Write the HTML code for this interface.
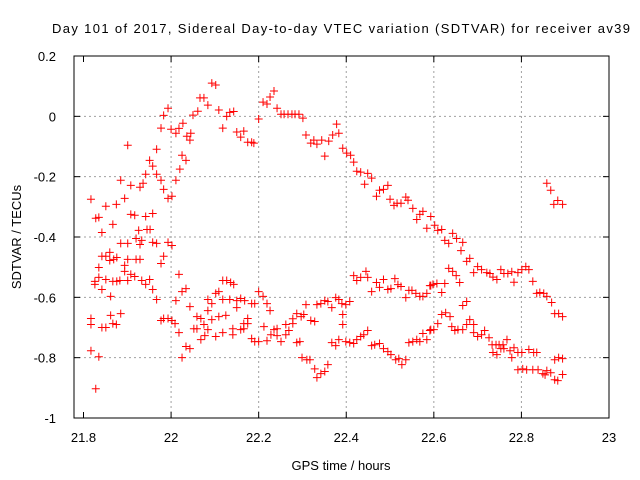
<!DOCTYPE html>
<html><head><meta charset="utf-8"><style>
body{margin:0;background:#fff}
svg{display:block;font-family:"Liberation Sans",sans-serif}
</style></head><body>
<svg id="chart" width="640" height="480">
<text x="341" y="33" text-anchor="middle" font-size="13" textLength="578">Day 101 of 2017, Sidereal Day-to-day VTEC variation (SDTVAR) for receiver av39</text>
<text transform="translate(21,237) rotate(-90)" text-anchor="middle" font-size="13">SDTVAR / TECUs</text>
<text x="341" y="470" text-anchor="middle" font-size="13">GPS time / hours</text>
<g id="grid"></g>
<g id="pts"></g>
<rect x="74" y="56" width="535" height="362" fill="none" stroke="#000" stroke-width="1"/>
<g id="ticks"></g>
</svg>
<script>
const xTicks=[21.8,22,22.2,22.4,22.6,22.8,23];
const xTickLabels=["21.8","22","22.2","22.4","22.6","22.8","23"];
const yTicks=[0.2,0,-0.2,-0.4,-0.6,-0.8,-1];
const yTickLabels=["0.2","0","-0.2","-0.4","-0.6","-0.8","-1"];
const upperX=[21.817,21.828,21.835,21.842,21.851,21.867,21.875,21.885,21.894,21.901,21.908,21.908,21.917,21.926,21.945,21.952,21.929,21.936,21.942,21.942,21.951,21.958,21.958,21.967,21.967,21.977,21.977,21.983,21.993,21.983,21.993,22.002,22.0,22.011,22.011,22.02,22.018,22.027,22.025,22.034,22.036,22.045,22.043,22.05,22.061,22.066,22.075,22.084,22.093,22.102,22.109,22.118,22.127,22.134,22.143,22.15,22.166,22.159,22.175,22.184,22.189,22.2,22.21,22.219,22.226,22.235,22.242,22.251,22.258,22.267,22.276,22.283,22.292,22.301,22.308,22.319,22.326,22.333,22.344,22.351,22.36,22.369,22.378,22.383,22.392,22.401,22.41,22.417,22.424,22.433,22.449,22.458,22.442,22.469,22.476,22.485,22.495,22.5,22.509,22.516,22.525,22.536,22.541,22.552,22.561,22.568,22.575,22.584,22.593,22.602,22.609,22.618,22.625,22.634,22.643,22.652,22.666,22.662,22.675,22.682,22.7,22.709,22.691,22.721,22.728,22.735,22.744,22.753,22.76,22.769,22.778,22.783,22.792,22.801,22.81,22.817,22.826,22.835,22.842,22.851,22.858,22.869,22.876,22.885,22.894,22.858,22.867,22.874,22.883,22.894];
const upperY=[-0.275,-0.338,-0.335,-0.385,-0.298,-0.358,-0.292,-0.212,-0.272,-0.096,-0.229,-0.325,-0.328,-0.378,-0.375,-0.375,-0.235,-0.222,-0.192,-0.332,-0.146,-0.165,-0.322,-0.109,-0.192,-0.212,-0.039,0.003,0.027,-0.242,-0.272,-0.265,-0.043,-0.056,-0.212,-0.175,-0.04,-0.023,-0.129,-0.146,-0.066,-0.056,-0.079,0.004,0.017,0.061,0.061,0.037,0.11,0.104,0.021,-0.039,0,0.013,0.016,-0.052,-0.049,-0.069,-0.086,-0.086,-0.089,-0.009,0.047,0.041,0.064,0.084,0.027,0.007,0.007,0.007,0.007,0.007,0.007,-0.006,-0.062,-0.089,-0.079,-0.092,-0.079,-0.132,-0.082,-0.062,-0.026,-0.056,-0.106,-0.122,-0.129,-0.152,-0.182,-0.185,-0.189,-0.205,-0.225,-0.265,-0.245,-0.242,-0.229,-0.275,-0.295,-0.288,-0.288,-0.268,-0.278,-0.305,-0.342,-0.325,-0.315,-0.371,-0.332,-0.361,-0.378,-0.375,-0.411,-0.421,-0.388,-0.405,-0.418,-0.445,-0.481,-0.471,-0.498,-0.508,-0.518,-0.518,-0.521,-0.533,-0.541,-0.508,-0.521,-0.521,-0.515,-0.55,-0.518,-0.508,-0.498,-0.508,-0.547,-0.587,-0.584,-0.587,-0.597,-0.617,-0.654,-0.654,-0.664,-0.222,-0.245,-0.292,-0.279,-0.292];
const middleX=[22.417,22.424,22.433,22.445,22.449,22.458,22.469,22.476,22.485,22.495,22.502,22.511,22.518,22.525,22.536,22.543,22.55,22.559,22.568,22.575,22.584,22.593,22.591,22.598,22.607,22.625,22.618,22.634,22.643,22.651,22.659,22.666,22.675,22.2,22.21,22.219,22.226,22.191,22.308,22.333,22.342,22.351,22.358,22.367,22.376,22.383,22.39,22.399,22.408,22.392,22.392];
const middleY=[-0.528,-0.544,-0.534,-0.514,-0.534,-0.581,-0.551,-0.567,-0.541,-0.574,-0.571,-0.538,-0.558,-0.564,-0.601,-0.577,-0.577,-0.587,-0.597,-0.597,-0.587,-0.561,-0.561,-0.557,-0.554,-0.554,-0.584,-0.504,-0.514,-0.528,-0.551,-0.627,-0.614,-0.581,-0.597,-0.621,-0.644,-0.621,-0.624,-0.624,-0.621,-0.611,-0.614,-0.634,-0.601,-0.607,-0.621,-0.624,-0.614,-0.657,-0.69];
const lowerX=[22.591,22.6,22.609,22.618,22.627,22.637,22.641,22.648,22.655,22.666,22.675,22.682,22.691,22.691,22.7,22.709,22.716,22.726,22.733,22.742,22.749,22.758,22.767,22.735,22.744,22.753,22.76,22.774,22.783,22.778,22.792,22.801,22.817,22.828,22.835,22.792,22.803,22.812,22.826,22.838,22.849,22.858,22.854,22.867,22.876,22.883,22.894,22.876,22.885,22.894,22.212,22.219,22.191,22.2,22.228,22.235,22.242,22.242,22.251,22.262,22.262,22.269,22.278,22.278,22.287,22.297,22.303,22.287,22.294,22.319,22.328,22.299,22.31,22.317,22.328,22.333,22.342,22.351,22.358,22.367,22.376,22.383,22.399,22.408,22.417,22.424,22.433,22.44,22.449,22.458,22.465,22.476,22.485,22.495,22.502,22.513,22.52,22.527,22.536,22.543,22.552,22.561,22.568,22.575,22.584,22.593];
const lowerY=[-0.71,-0.707,-0.687,-0.657,-0.651,-0.664,-0.697,-0.71,-0.707,-0.707,-0.69,-0.674,-0.69,-0.717,-0.73,-0.724,-0.71,-0.734,-0.757,-0.757,-0.757,-0.757,-0.74,-0.783,-0.79,-0.77,-0.77,-0.777,-0.767,-0.8,-0.783,-0.783,-0.773,-0.783,-0.783,-0.84,-0.837,-0.84,-0.84,-0.84,-0.853,-0.843,-0.857,-0.85,-0.873,-0.876,-0.856,-0.807,-0.8,-0.803,-0.697,-0.744,-0.747,-0.747,-0.724,-0.707,-0.704,-0.727,-0.747,-0.69,-0.724,-0.71,-0.671,-0.687,-0.654,-0.664,-0.657,-0.75,-0.747,-0.677,-0.68,-0.8,-0.807,-0.807,-0.837,-0.866,-0.853,-0.846,-0.823,-0.75,-0.76,-0.74,-0.747,-0.75,-0.753,-0.74,-0.73,-0.724,-0.71,-0.76,-0.757,-0.753,-0.77,-0.78,-0.79,-0.807,-0.803,-0.823,-0.807,-0.75,-0.747,-0.74,-0.747,-0.72,-0.74,-0.707];
const leftX=[21.817,21.817,21.817,21.835,21.828,21.842,21.851,21.862,21.867,21.875,21.885,21.826,21.826,21.835,21.835,21.842,21.851,21.862,21.842,21.851,21.86,21.86,21.869,21.876,21.867,21.876,21.883,21.885,21.901,21.92,21.929,21.933,21.958,21.967,21.993,22.002,21.894,21.894,21.901,21.92,21.929,21.908,21.917,21.901,21.933,21.942,21.951,21.958,21.983,21.977,21.967,22.018,22.011,22.025,22.034,21.977,21.983,21.993,22.002,22.009,22.018,22.043,22.034,22.043,22.025,22.059,22.068,22.084,22.093,22.109,22.125,22.109,22.118,22.127,22.136,22.143,22.052,22.059,22.075,22.084,22.102,22.118,22.141,22.159,22.166,22.175,22.184,22.077,22.068,22.084,22.102,22.093,22.118,22.134,22.15,22.159,22.168,22.184,22.175,22.166,22.141,22.15];
const leftY=[-0.67,-0.69,-0.777,-0.797,-0.903,-0.7,-0.7,-0.66,-0.687,-0.69,-0.654,-0.547,-0.557,-0.501,-0.534,-0.574,-0.541,-0.597,-0.464,-0.464,-0.451,-0.478,-0.474,-0.468,-0.547,-0.547,-0.544,-0.421,-0.421,-0.405,-0.425,-0.411,-0.418,-0.421,-0.418,-0.428,-0.494,-0.514,-0.474,-0.474,-0.474,-0.524,-0.531,-0.544,-0.544,-0.557,-0.541,-0.574,-0.464,-0.488,-0.607,-0.524,-0.611,-0.581,-0.571,-0.677,-0.67,-0.67,-0.677,-0.687,-0.717,-0.631,-0.763,-0.77,-0.8,-0.664,-0.67,-0.644,-0.674,-0.664,-0.66,-0.581,-0.544,-0.544,-0.551,-0.557,-0.704,-0.704,-0.69,-0.707,-0.73,-0.717,-0.724,-0.707,-0.687,-0.687,-0.737,-0.727,-0.74,-0.607,-0.587,-0.621,-0.607,-0.607,-0.611,-0.604,-0.611,-0.621,-0.67,-0.704,-0.704,-0.634];

const L=74,R=609,T=56,B=418,XMIN=21.7783,XMAX=23,YMIN=-1,YMAX=0.2;
function sx(v){return L+(v-XMIN)/(XMAX-XMIN)*(R-L);}
function sy(v){return B-(v-YMIN)/(YMAX-YMIN)*(B-T);}
const NS="http://www.w3.org/2000/svg";
function mk(t,a,p){const e=document.createElementNS(NS,t);for(const k in a)e.setAttribute(k,a[k]);p.appendChild(e);return e;}
const grid=document.getElementById('grid'),ticks=document.getElementById('ticks'),pts=document.getElementById('pts');
xTicks.forEach((v,i)=>{const x=sx(v);
 if(i>0&&i<xTicks.length-1){const g=mk('line',{x1:x,x2:x,y1:T,y2:B,stroke:'#a0a0a0','stroke-dasharray':'2,3'},grid);
 
 }
 const t1=mk('line',{x1:x,x2:x,y1:B,y2:B-6,stroke:'#000'},ticks);
 
 
 mk('line',{x1:x,x2:x,y1:T,y2:T+6,stroke:'#000'},ticks);
 const tl=mk('text',{x:x,y:442,'text-anchor':'middle','font-size':'13'},ticks);tl.textContent=xTickLabels[i];
 
 
});
yTicks.forEach((v,i)=>{const y=sy(v);
 if(i>0&&i<yTicks.length-1){const g=mk('line',{x1:L,x2:R,y1:y,y2:y,stroke:'#a0a0a0','stroke-dasharray':'2,3'},grid);
 
 }
 const t1=mk('line',{x1:L,x2:L+6,y1:y,y2:y,stroke:'#000'},ticks);
 
 
 mk('line',{x1:R,x2:R-6,y1:y,y2:y,stroke:'#000'},ticks);
 const tl=mk('text',{x:56,y:y+5,'text-anchor':'end','font-size':'13'},ticks);tl.textContent=yTickLabels[i];
 
 
});
function plot(xs,ys,name){xs.forEach((v,i)=>{const x=sx(v),y=sy(ys[i]);
 const p=mk('path',{d:`M${x-4},${y}H${x+4}M${x},${y-4}V${y+4}`,stroke:'#ff0000','stroke-width':'1',fill:'none'},pts);
 
 
});}
plot(upperX,upperY,'point-upper');
plot(middleX,middleY,'point-middle');
plot(lowerX,lowerY,'point-lower');
plot(leftX,leftY,'point-left');
</script>
</body></html>
